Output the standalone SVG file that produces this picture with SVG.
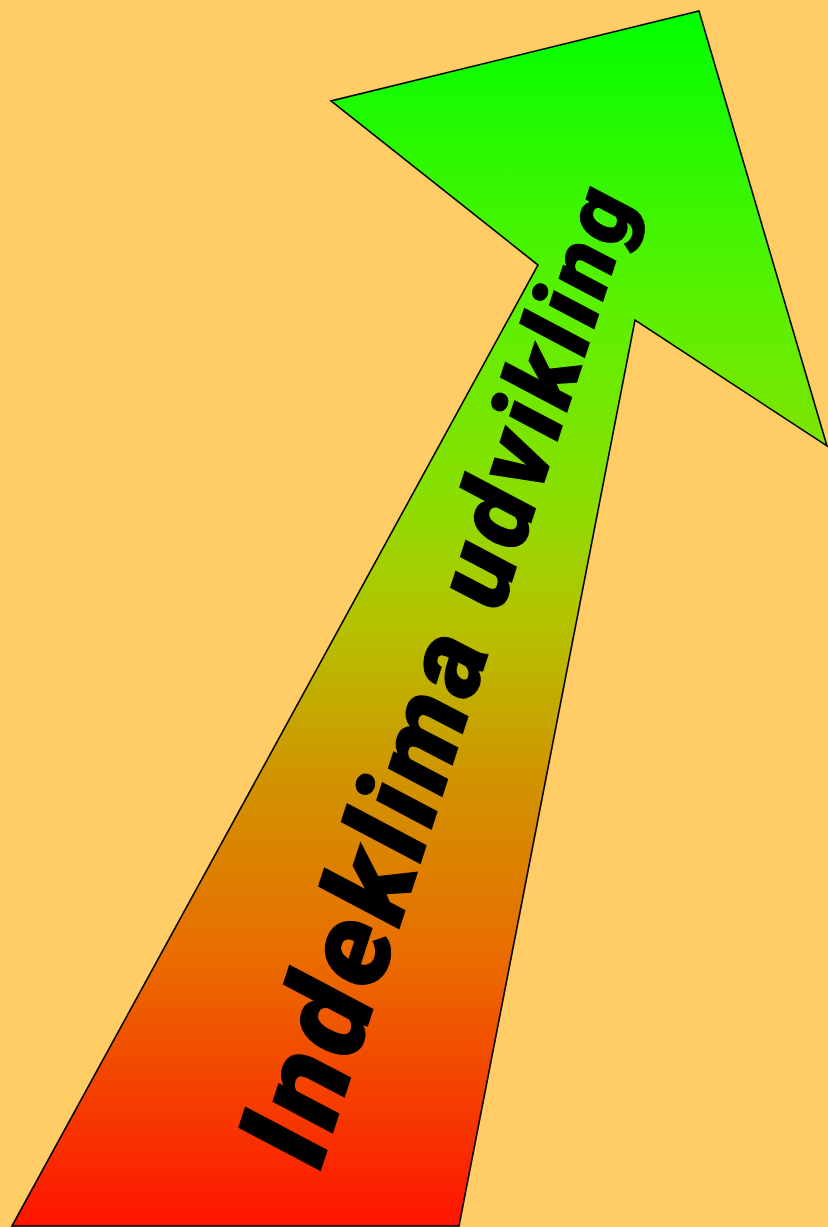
<svg xmlns="http://www.w3.org/2000/svg" width="828" height="1227" viewBox="0 0 828 1227">
<defs>
<linearGradient id="g" gradientUnits="userSpaceOnUse" x1="0" y1="11" x2="0" y2="1226">
<stop offset="0" stop-color="#00ff00"/>
<stop offset="0.25" stop-color="#5ef000"/>
<stop offset="0.4" stop-color="#8ade00"/>
<stop offset="0.5" stop-color="#b4c400"/>
<stop offset="0.63" stop-color="#d09400"/>
<stop offset="0.78" stop-color="#ea6c00"/>
<stop offset="1" stop-color="#ff1400"/>
</linearGradient>
<style>
.lbl{font-family:Roboto,"Liberation Sans",Arial,sans-serif;font-weight:900;font-style:italic;fill:#000;stroke:#000;stroke-width:1;letter-spacing:4.5px}
</style>
</defs>
<rect width="828" height="1227" fill="#ffcc66"/>
<g id="arrow">
<polygon points="12,1226 538,265 331,101 699,11 827,446 635,320 459,1226" fill="url(#g)" stroke="#000" stroke-width="1.6" stroke-linejoin="miter"/>
<text class="lbl" transform="translate(320,1172) rotate(-72)" xml:space="preserve"><tspan font-size="128">I</tspan><tspan font-size="125.9">n</tspan><tspan font-size="123.8">d</tspan><tspan font-size="121.7">e</tspan><tspan font-size="119.6">k</tspan><tspan font-size="117.4">l</tspan><tspan font-size="115.3">i</tspan><tspan font-size="113.2">m</tspan><tspan font-size="111.1">a</tspan><tspan font-size="109"> </tspan><tspan font-size="106.9">u</tspan><tspan font-size="104.8">d</tspan><tspan font-size="102.7">v</tspan><tspan font-size="100.6">i</tspan><tspan font-size="98.5">k</tspan><tspan font-size="96.4">l</tspan><tspan font-size="94.2">i</tspan><tspan font-size="92.1">n</tspan><tspan font-size="90">g</tspan></text>
</g>
</svg>
